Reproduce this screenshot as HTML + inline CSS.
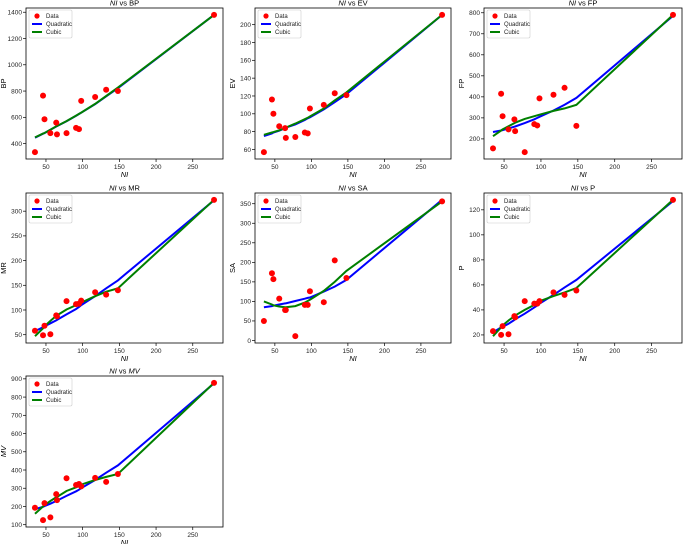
<!DOCTYPE html>
<html><head><meta charset="utf-8"><style>
html,body{margin:0;padding:0;background:#fff;width:685px;height:544px;overflow:hidden}
svg text{font-family:"Liberation Sans","DejaVu Sans",sans-serif}
</style></head><body>
<svg id="chart" width="685" height="544" xmlns="http://www.w3.org/2000/svg"></svg>
<script>
const xNI = [35,46,48,56,64,65,78,91,95,98,117,132,148,279];
const yBP = [335,765,585,480,560,470,480,520,510,725,755,810,800,1380];
const qBP = [445,475,480,505,530,533,570,612,625,635,700,760,822,1380];
const cBP = [447,476,481,506,531,534,571,613,626,636,702,762,826,1380];
const yEV = [57,116,100,86,84,73,74,79,78,106,110,123,121,211];
const qEV = [75,78,79,81,84,84.5,88,93,95,96,105,113,122,211];
const cEV = [76.5,79,79.5,81.5,84,84.5,89,94,95.5,97,106,115,124,211];
const yFP = [155,415,308,245,293,237,137,270,264,393,410,443,262,790];
const qFP = [233,240,242,250,258,259,275,293,300,305,335,362,395,785];
const cFP = [213,240,245,260,275,277,295,308,312,315,333,345,362,790];
const yMR = [58,49,68,51,89,87,118,112,113,119,136,131,140,323];
const qMR = [57,65,67,73,79,80,91,102,106,110,128,144,160,322];
const cMR = [47,63,67,78,88,89,101,110,113,115,128,137,144,323];
const ySA = [50,172,157,107,78,78,11,91,91,126,98,205,160,356];
const qSA = [85,88,89,92,95,95,101,107,109,110,125,138,155,360];
const cSA = [100,92,90,87,85,85,88,97,101,104,127,150,178,356];
const yP = [23,20,27,20.5,35,34,47,45,45,47,54,52,55.5,128];
const qP = [22,26,26.5,29,32,32.5,37,42,43.5,45,52,58,64,127];
const cP = [19,26,27.5,31.5,35,35.5,40,44,45.5,47,51,54,57.5,128];
const yMV = [193,125,218,140,268,235,355,318,323,310,357,335,378,878];
const qMV = [185,198,202,215,230,232,258,283,292,300,345,385,425,875];
const cMV = [160,200,207,230,250,252,285,305,312,320,345,362,378,878];
const xTicks = [50,100,150,200,250];
const ticksBP = [400,600,800,1000,1200,1400];
const ticksEV = [60,80,100,120,140,160,180,200,220];
const ticksFP = [200,300,400,500,600,700,800];
const ticksMR = [50,100,150,200,250,300];
const ticksSA = [0,50,100,150,200,250,300,350];
const ticksP = [20,40,60,80,100,120];
const ticksMV = [100,200,300,400,500,600,700,800,900];

const panels = [
 {name:'BP',y:yBP,q:qBP,c:cBP,t:ticksBP,L:26,R:223,T:8,B:159,it:false},
 {name:'EV',y:yEV,q:qEV,c:cEV,t:ticksEV,L:255,R:451,T:8,B:159,it:false},
 {name:'FP',y:yFP,q:qFP,c:cFP,t:ticksFP,L:484,R:682,T:8,B:159,it:false},
 {name:'MR',y:yMR,q:qMR,c:cMR,t:ticksMR,L:26,R:223,T:193,B:343,it:false},
 {name:'SA',y:ySA,q:qSA,c:cSA,t:ticksSA,L:255,R:451,T:193,B:343,it:false},
 {name:'P',y:yP,q:qP,c:cP,t:ticksP,L:484,R:682,T:193,B:343,it:false},
 {name:'MV',y:yMV,q:qMV,c:cMV,t:ticksMV,L:26,R:223,T:376,B:527,it:true}
];
const NS='http://www.w3.org/2000/svg';
const svg=document.getElementById('chart');
function mk(tag,at,parent){const e=document.createElementNS(NS,tag);for(const k in at)e.setAttribute(k,at[k]);(parent||svg).appendChild(e);return e;}

panels.forEach(p=>{
  const g=mk('g',{});
  
  
  const qv=p.q, cv=p.c;
  const all=p.y.concat(qv,cv);
  let ymin=Math.min(...all), ymax=Math.max(...all); const yr=ymax-ymin; ymin-=0.05*yr; ymax+=0.05*yr;
  const xmin=Math.min(...xNI), xmax=Math.max(...xNI), xr=xmax-xmin;
  const x0=xmin-0.05*xr, x1=xmax+0.05*xr;
  const sx=v=>p.L+(v-x0)/(x1-x0)*(p.R-p.L);
  const sy=v=>p.B-(v-ymin)/(ymax-ymin)*(p.B-p.T);
  xTicks.forEach(t=>{const X=sx(t);
    mk('line',{x1:X,x2:X,y1:p.B,y2:p.B+3,stroke:'#000','stroke-width':0.7},g);
    const tx=mk('text',{x:X,y:p.B+10,'font-size':6.5,'text-anchor':'middle',fill:'#222'},g);tx.textContent=t;
    
    
  });
  p.t.forEach(t=>{const Y=sy(t); if(Y<p.T-1||Y>p.B+1)return;
    mk('line',{x1:p.L-3,x2:p.L,y1:Y,y2:Y,stroke:'#000','stroke-width':0.7},g);
    const tx=mk('text',{x:p.L-4,y:Y+2.3,'font-size':6.5,'text-anchor':'end',fill:'#222'},g);tx.textContent=t;
    
    
  });
  const path=arr=>xNI.map((x,i)=>(i?'L':'M')+sx(x).toFixed(1)+','+sy(arr[i]).toFixed(1)).join('');
  const lq=mk('path',{d:path(qv),fill:'none',stroke:'#0000ff','stroke-width':2},g);
  
  
  const lc=mk('path',{d:path(cv),fill:'none',stroke:'#008000','stroke-width':2},g);
  
  
  p.y.forEach((v,i)=>{const c=mk('circle',{cx:sx(xNI[i]),cy:sy(v),r:3,fill:'#ff0000'},g);
    
    });
  mk('rect',{x:p.L,y:p.T,width:p.R-p.L,height:p.B-p.T,fill:'none',stroke:'#000','stroke-width':0.8},g);
  const lg=mk('g',{},g);
  
  
  const lx=p.L+3, ly=p.T+2;
  mk('rect',{x:lx,y:ly,width:43,height:28,fill:'#fff',stroke:'#ccc','stroke-width':0.6,rx:1.5},lg);
  mk('circle',{cx:lx+8,cy:ly+6,r:2.6,fill:'#ff0000'},lg);
  mk('line',{x1:lx+3,x2:lx+13,y1:ly+14,y2:ly+14,stroke:'#0000ff','stroke-width':2},lg);
  mk('line',{x1:lx+3,x2:lx+13,y1:ly+22,y2:ly+22,stroke:'#008000','stroke-width':2},lg);
  [['Data',6],['Quadratic',14],['Cubic',22]].forEach(([s,o])=>{const t=mk('text',{x:lx+17,y:ly+o+2.2,'font-size':6,fill:'#222'},lg);t.textContent=s;});
  const cx=(p.L+p.R)/2;
  const ti=mk('text',{x:cx,y:p.T-2.5,'font-size':7.5,'text-anchor':'middle',fill:'#000'},g);
  
  
  ti.innerHTML='<tspan font-style="italic">NI</tspan> vs <tspan'+(p.it?' font-style="italic"':'')+'>'+p.name+'</tspan>';
  const xl=mk('text',{x:cx,y:p.B+18,'font-size':7.5,'text-anchor':'middle','font-style':'italic',fill:'#000'},g);xl.textContent='NI';
  
  
  const yx=p.L-20, yy=(p.T+p.B)/2;
  const yl=mk('text',{x:yx,y:yy,'font-size':7.5,'text-anchor':'middle',transform:'rotate(-90 '+yx+' '+yy+')',fill:'#000'},g);yl.textContent=p.name;
  if(p.it)yl.setAttribute('font-style','italic');
  
  
});
</script>
</body></html>
